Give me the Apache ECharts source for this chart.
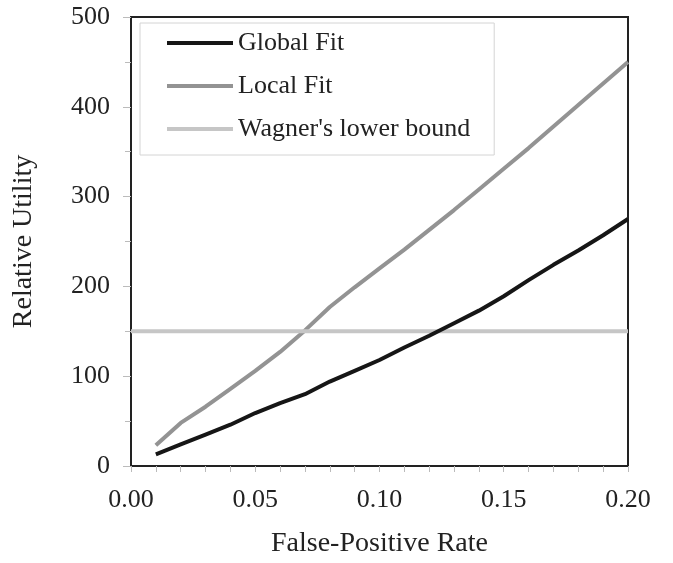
<!DOCTYPE html>
<html>
<head>
<meta charset="utf-8">
<script src="https://cdn.jsdelivr.net/npm/echarts@6/dist/echarts.min.js"></script>
<style>
html,body{margin:0;padding:0;background:#fff;}
#chart{width:673px;height:563px;}
</style>
</head>
<body>
<div id="chart"></div>
<script>
var fpRate = [0.01,0.02,0.03,0.04,0.05,0.06,0.07,0.08,0.09,0.10,0.11,0.12,0.13,0.14,0.15,0.16,0.17,0.18,0.19,0.20];
var globalFit = [13,24,35,46,59,70,80,94,106,118,132,145,159,173,189,207,224,240,257,275];
var localFit = [23,48,66,86,106,127,151,177,199,220,241,263,285,308,331,354,378,402,426,450];
var wagnerX = [0.00,0.20];
var wagnerY = [150,150];
var seriesNames = ['Global Fit','Local Fit',"Wagner's lower bound"];

function pairs(xs, ys){ return xs.map(function(x,i){ return [x, ys[i]]; }); }

var FONT = '"Liberation Serif","Times New Roman",serif';
var chart = echarts.init(document.getElementById('chart'));
chart.setOption({
  animation:false,
  backgroundColor:'#fff',
  textStyle:{fontFamily:FONT},
  grid:{left:131,right:45,top:17,bottom:96,show:true,borderColor:'#222',borderWidth:2,backgroundColor:'transparent'},
  legend:{
    orient:'vertical', left:140, top:23,
    data:seriesNames,
    icon:'rect', itemWidth:66, itemHeight:4, itemGap:17, itemTextGap:7,
    padding:[7,24,13,27],
    borderColor:'#d4d4d4', borderWidth:1, backgroundColor:'#fff',
    textStyle:{fontFamily:FONT,fontSize:26,color:'#222'}
  },
  xAxis:{
    type:'value', min:0, max:0.2, interval:0.05,
    name:'False-Positive Rate', nameLocation:'middle', nameGap:64,
    nameTextStyle:{fontFamily:FONT,fontSize:28,color:'#222'},
    axisLine:{show:true,lineStyle:{color:'#222',width:2}},
    axisTick:{show:true,inside:false,length:6,lineStyle:{color:'#bbb'}},
    minorTick:{show:true,splitNumber:5,length:6,lineStyle:{color:'#bbb'}},
    splitLine:{show:false},
    axisLabel:{fontFamily:FONT,fontSize:26,color:'#222',margin:21,formatter:function(v){return v.toFixed(2);}}
  },
  yAxis:{
    type:'value', min:0, max:500, interval:100,
    name:'Relative Utility', nameLocation:'middle', nameGap:93,
    nameTextStyle:{fontFamily:FONT,fontSize:28,color:'#222'},
    axisLine:{show:true,lineStyle:{color:'#222',width:2}},
    axisTick:{show:true,inside:false,length:8,lineStyle:{color:'#bbb'}},
    minorTick:{show:true,splitNumber:2,length:6,lineStyle:{color:'#bbb'}},
    splitLine:{show:false},
    axisLabel:{fontFamily:FONT,fontSize:26,color:'#222',margin:21}
  },
  series:[
    {name:seriesNames[0],type:'line',data:pairs(fpRate,globalFit),showSymbol:false,symbol:'none',z:5,
     itemStyle:{color:'#161616'},lineStyle:{color:'#161616',width:4}},
    {name:seriesNames[1],type:'line',data:pairs(fpRate,localFit),showSymbol:false,symbol:'none',z:3,
     itemStyle:{color:'#939393'},lineStyle:{color:'#939393',width:4}},
    {name:seriesNames[2],type:'line',data:pairs(wagnerX,wagnerY),showSymbol:false,symbol:'none',z:4,
     itemStyle:{color:'#c6c6c6'},lineStyle:{color:'#c6c6c6',width:4}}
  ]
});
</script>
</body>
</html>
